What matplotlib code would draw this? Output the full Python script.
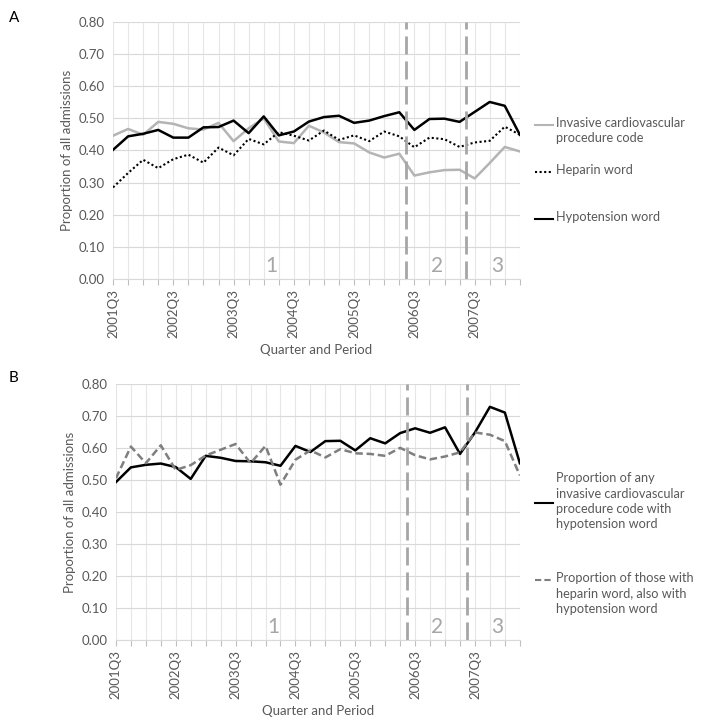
import matplotlib.pyplot as plt
from matplotlib.lines import Line2D

plt.rcParams['font.family'] = ['Lato', 'DejaVu Sans']

# Quarters 2001Q3 .. 2008Q2
quarters = []
for yr in range(2001, 2009):
    for q in range(1, 5):
        if (yr == 2001 and q < 3) or (yr == 2008 and q > 2):
            continue
        quarters.append('%dQ%d' % (yr, q))

# Panel A
invasive = [0.446, 0.467, 0.449, 0.489, 0.483, 0.469, 0.465, 0.486, 0.429, 0.469,
            0.500, 0.428, 0.423, 0.477, 0.456, 0.426, 0.422, 0.394, 0.378, 0.390,
            0.322, 0.332, 0.339, 0.340, 0.313, 0.361, 0.411, 0.397]
heparin = [0.285, 0.330, 0.371, 0.345, 0.373, 0.387, 0.362, 0.409, 0.385, 0.436,
           0.419, 0.457, 0.446, 0.431, 0.462, 0.433, 0.447, 0.429, 0.459, 0.444,
           0.410, 0.440, 0.435, 0.411, 0.425, 0.430, 0.474, 0.449]
hypotension = [0.402, 0.444, 0.452, 0.464, 0.440, 0.440, 0.472, 0.473, 0.493, 0.454,
               0.506, 0.447, 0.459, 0.490, 0.504, 0.508, 0.486, 0.493, 0.507, 0.519,
               0.464, 0.498, 0.499, 0.489, 0.520, 0.551, 0.539, 0.449]

# Panel B
any_invasive_hypo = [0.493, 0.539, 0.547, 0.551, 0.540, 0.503, 0.575, 0.569, 0.559, 0.558,
                     0.555, 0.544, 0.606, 0.587, 0.621, 0.622, 0.592, 0.630, 0.614, 0.646,
                     0.661, 0.647, 0.664, 0.581, 0.648, 0.728, 0.710, 0.552]
heparin_hypo = [0.505, 0.604, 0.552, 0.608, 0.531, 0.546, 0.576, 0.594, 0.612, 0.552,
                0.606, 0.485, 0.563, 0.592, 0.570, 0.596, 0.583, 0.581, 0.575, 0.600,
                0.577, 0.564, 0.573, 0.586, 0.648, 0.641, 0.621, 0.514]

# period boundaries (between quarters) and period labels
period_breaks = [19.45, 23.45]
period_labels = ['1', '2', '3']
period_pos = [10.5, 21.5, 25.5]

txt = '#595959'
x = list(range(len(quarters)))


def style_axes(ax):
    ax.set_xlim(0, len(quarters) - 1)
    ax.set_ylim(0, 0.8)
    ax.set_yticks([i / 10 for i in range(9)])
    ax.set_yticklabels(['%.2f' % (i / 10) for i in range(9)], color=txt, fontsize=9.5)
    ax.set_xticks(x[::4])
    ax.set_xticklabels(quarters[::4], rotation=90, color=txt, fontsize=9.5)
    ax.set_xticks(x, minor=True)
    ax.tick_params(axis='x', which='both', length=4, color='#bfbfbf', width=0.8)
    ax.tick_params(axis='y', length=0, pad=6)
    ax.grid(True, axis='y', color='#d9d9d9', lw=0.8)
    ax.grid(True, axis='x', which='both', color='#e6e6e6', lw=0.8)
    for s in ['top', 'right', 'left']:
        ax.spines[s].set_visible(False)
    ax.spines['bottom'].set_color('#d9d9d9')
    ax.set_axisbelow(True)
    ax.set_ylabel('Proportion of all admissions', color=txt, fontsize=9.5, labelpad=4)
    ax.set_xlabel('Quarter and Period', color=txt, fontsize=9.5, labelpad=4)
    for b in period_breaks:
        ax.axvline(b, color='#a6a6a6', lw=2, dashes=(6.5, 2.5))
    for lab, p in zip(period_labels, period_pos):
        ax.text(p, 0.04, lab, color='#a6a6a6', fontsize=15, ha='center', va='center')


fig = plt.figure(figsize=(7.2, 7.2), dpi=100)
axA = fig.add_axes([0.157, 0.6125, 0.565, 0.357])
axB = fig.add_axes([0.161, 0.111, 0.561, 0.356])

axA.plot(x, invasive, color='#b4b4b4', lw=1.8)
axA.plot(x, heparin, color='black', lw=1.5, ls=(0, (1, 1.2)))
axA.plot(x, hypotension, color='black', lw=1.8)
style_axes(axA)

axB.plot(x, any_invasive_hypo, color='black', lw=1.8)
axB.plot(x, heparin_hypo, color='#7f7f7f', lw=1.8, dashes=(3, 1.5))
style_axes(axB)

fig.text(0.012, 0.975, 'A', fontsize=11, color='black', va='center')
fig.text(0.012, 0.475, 'B', fontsize=11, color='black', va='center')


def legend_entry(y_line, y_text, lines, **kw):
    fig.add_artist(Line2D([0.743, 0.768], [y_line, y_line], transform=fig.transFigure, **kw))
    fig.text(0.772, y_text, '\n'.join(lines), color=txt, fontsize=9.2, va='top',
             linespacing=1.35)


def fy(py):
    return 1 - py / 720


legend_entry(fy(125), fy(117), ['Invasive cardiovascular', 'procedure code'],
             color='#b4b4b4', lw=1.5)
legend_entry(fy(172), fy(164), ['Heparin word'], color='black', lw=1.5, ls=(0, (1, 1.2)))
legend_entry(fy(219), fy(211), ['Hypotension word'], color='black', lw=1.5)
legend_entry(fy(503), fy(472), ['Proportion of any', 'invasive cardiovascular',
                                'procedure code with', 'hypotension word'],
             color='black', lw=1.5)
legend_entry(fy(580), fy(572), ['Proportion of those with', 'heparin word, also with',
                                'hypotension word'], color='#7f7f7f', lw=1.5, dashes=(3, 1.5))

fig.savefig('out.png', dpi=100, facecolor='white')
